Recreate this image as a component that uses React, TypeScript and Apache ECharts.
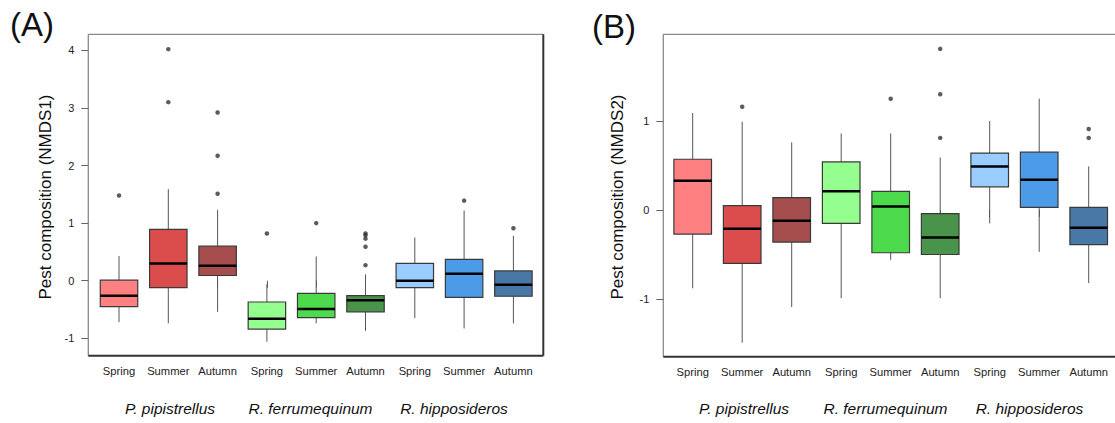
import React, { useEffect, useRef } from "react";
import * as echarts from "echarts";

const seasons = ["Spring", "Summer", "Autumn"];
const species = ["P. pipistrellus", "R. ferrumequinum", "R. hipposideros"];
const categories = [...seasons, ...seasons, ...seasons];

// [min whisker, Q1, median, Q3, max whisker]
const boxesA = [
  [-0.72, -0.45, -0.26, 0.01, 0.43],
  [-0.74, -0.12, 0.3, 0.89, 1.59],
  [-0.54, 0.09, 0.26, 0.6, 1.23],
  [-1.06, -0.84, -0.66, -0.37, -0.06],
  [-0.74, -0.64, -0.49, -0.22, 0.42],
  [-0.87, -0.54, -0.34, -0.26, 0.11],
  [-0.65, -0.12, 0.0, 0.3, 0.75],
  [-0.83, -0.29, 0.12, 0.37, 1.22],
  [-0.74, -0.27, -0.07, 0.17, 0.78],
];
const outliersA = [
  [0, 1.48],
  [1, 4.02],
  [1, 3.1],
  [2, 2.92],
  [2, 2.17],
  [2, 1.51],
  [3, 0.82],
  [4, 1.0],
  [5, 0.82],
  [5, 0.79],
  [5, 0.73],
  [5, 0.59],
  [5, 0.27],
  [7, 1.39],
  [8, 0.91],
];

const boxesB = [
  [-0.88, -0.27, 0.33, 0.57, 1.09],
  [-1.49, -0.6, -0.21, 0.05, 0.99],
  [-1.09, -0.36, -0.12, 0.14, 0.76],
  [-0.99, -0.15, 0.21, 0.54, 0.86],
  [-0.56, -0.48, 0.04, 0.21, 0.86],
  [-0.99, -0.5, -0.31, -0.04, 0.59],
  [-0.15, 0.26, 0.49, 0.64, 1.0],
  [-0.47, 0.03, 0.34, 0.65, 1.25],
  [-0.82, -0.39, -0.2, 0.03, 0.49],
];
const outliersB = [
  [1, 1.16],
  [4, 1.25],
  [5, 1.81],
  [5, 1.3],
  [5, 0.81],
  [8, 0.91],
  [8, 0.81],
];

const ticksA = [-1, 0, 1, 2, 3, 4];
const ticksB = [-1, 0, 1];

const COLORS = [
  "#FF8080",
  "#DB4D4D",
  "#A64D4D",
  "#94FF8F",
  "#4DDB4D",
  "#4A934A",
  "#99CCFF",
  "#4C9BE8",
  "#4A78A6",
];

const FONT = "Liberation Sans, Arial, Helvetica, sans-serif";

function renderBox(params: any, api: any) {
  const x = api.value(0);
  const pMin = api.coord([x, api.value(1)]);
  const pQ1 = api.coord([x, api.value(2)]);
  const pMed = api.coord([x, api.value(3)]);
  const pQ3 = api.coord([x, api.value(4)]);
  const pMax = api.coord([x, api.value(5)]);
  const band = api.size([1, 0])[0];
  const w = band * 0.76;
  const cx = pMed[0];
  const color = COLORS[params.dataIndex % COLORS.length];
  return {
    type: "group",
    children: [
      {
        type: "line",
        shape: { x1: cx, y1: pMin[1], x2: cx, y2: pQ1[1] },
        style: { stroke: "#555", lineWidth: 1 },
      },
      {
        type: "line",
        shape: { x1: cx, y1: pQ3[1], x2: cx, y2: pMax[1] },
        style: { stroke: "#555", lineWidth: 1 },
      },
      {
        type: "rect",
        shape: { x: cx - w / 2, y: pQ3[1], width: w, height: pQ1[1] - pQ3[1] },
        style: { fill: color, stroke: "#3a3a3a", lineWidth: 1.2 },
      },
      {
        type: "line",
        shape: { x1: cx - w / 2, y1: pMed[1], x2: cx + w / 2, y2: pMed[1] },
        style: { stroke: "#000", lineWidth: 2.5 },
      },
    ],
  };
}

function panelAxes(gridIndex: number, min: number, max: number, ticks: number[], offset: number) {
  const x = {
    type: "category",
    gridIndex,
    data: categories,
    boundaryGap: true,
    axisLine: { show: false },
    axisTick: { show: true, alignWithLabel: true, length: 7, lineStyle: { color: "#666" } },
    axisLabel: { interval: 0, fontSize: 11.2, color: "#222", margin: 10, fontFamily: FONT },
    splitLine: { show: false },
  };
  const y = {
    type: "value",
    gridIndex,
    min,
    max,
    offset,
    axisLine: { show: false },
    splitLine: { show: false },
    axisTick: { show: true, length: 7, customValues: ticks, lineStyle: { color: "#666" } },
    axisLabel: { customValues: ticks, fontSize: 11, color: "#222", margin: 14, fontFamily: FONT },
  };
  return { x, y };
}

const A = panelAxes(0, -1.302, 4.278, ticksA, 6.05);
const B = panelAxes(1, -1.648, 1.974, ticksB, 4.65);

function frame(left: number, top: number, right: number, bottom: number) {
  return [
    { type: "line", shape: { x1: left, y1: top, x2: right, y2: top }, style: { stroke: "#8a8a8a", lineWidth: 1.3 } },
    { type: "line", shape: { x1: left, y1: top, x2: left, y2: bottom }, style: { stroke: "#8a8a8a", lineWidth: 1.3 } },
    { type: "line", shape: { x1: left, y1: bottom, x2: right, y2: bottom }, style: { stroke: "#333", lineWidth: 2 } },
    { type: "line", shape: { x1: right, y1: top, x2: right, y2: bottom }, style: { stroke: "#333", lineWidth: 2 } },
  ];
}

const groupXA = [170, 310.5, 454];
const groupXB = [744, 885.5, 1029.5];

function textEl(text: string, x: number, y: number, size: number, extra: any = {}) {
  return {
    type: "text",
    x,
    y,
    ...extra,
    style: {
      text,
      fontSize: size,
      fontFamily: FONT,
      fill: "#111",
      align: "center",
      verticalAlign: "middle",
      ...(extra.style || {}),
    },
  };
}

const option: any = {
  animation: false,
  backgroundColor: "#fff",
  grid: [
    { left: 94.35, top: 34.3, width: 443.7, height: 321.4 },
    { left: 667.95, top: 34.3, width: 445.5, height: 322.4 },
  ],
  xAxis: [A.x, B.x],
  yAxis: [A.y, B.y],
  series: [
    {
      type: "custom",
      xAxisIndex: 0,
      yAxisIndex: 0,
      renderItem: renderBox,
      encode: { x: 0, y: [1, 2, 3, 4, 5] },
      data: boxesA.map((b, i) => [i, ...b]),
      clip: false,
      z: 2,
    },
    {
      type: "scatter",
      xAxisIndex: 0,
      yAxisIndex: 0,
      data: outliersA,
      symbol: "circle",
      symbolSize: 4.5,
      itemStyle: { color: "#333" },
      z: 3,
    },
    {
      type: "custom",
      xAxisIndex: 1,
      yAxisIndex: 1,
      renderItem: renderBox,
      encode: { x: 0, y: [1, 2, 3, 4, 5] },
      data: boxesB.map((b, i) => [i, ...b]),
      clip: false,
      z: 2,
    },
    {
      type: "scatter",
      xAxisIndex: 1,
      yAxisIndex: 1,
      data: outliersB,
      symbol: "circle",
      symbolSize: 4.5,
      itemStyle: { color: "#333" },
      z: 3,
    },
  ],
  graphic: [
    ...frame(88.3, 34.3, 543.3, 355.7),
    ...frame(663.3, 34.3, 1119, 356.7),
    textEl("(A)", 32, 24, 33),
    textEl("(B)", 614, 26, 33),
    textEl("Pest composition (NMDS1)", 45, 197, 17, { rotation: Math.PI / 2 }),
    textEl("Pest composition (NMDS2)", 617, 197, 17, { rotation: Math.PI / 2 }),
    ...species.map((s, i) => textEl(s, groupXA[i], 408, 15.5, { style: { fontStyle: "italic" } })),
    ...species.map((s, i) => textEl(s, groupXB[i], 408, 15.5, { style: { fontStyle: "italic" } })),
  ],
};

export default function App() {
  const ref = useRef<HTMLDivElement>(null);
  useEffect(() => {
    if (!ref.current) return;
    const chart = echarts.init(ref.current, null, { renderer: "svg" });
    chart.setOption(option);
    return () => chart.dispose();
  }, []);
  return (
    <div
      ref={ref}
      style={{ position: "absolute", left: 0, top: 0, width: 1115, height: 423, background: "#fff" }}
    />
  );
}
